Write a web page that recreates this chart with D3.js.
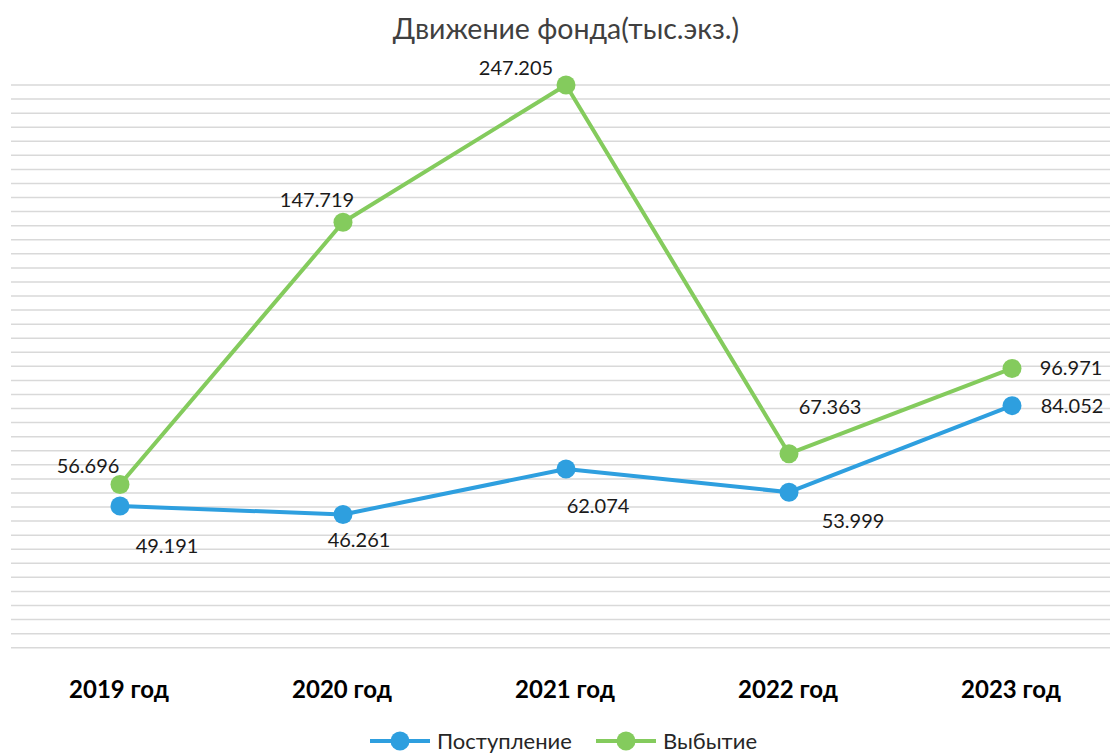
<!DOCTYPE html>
<html><head><meta charset="utf-8">
<script src="https://cdn.jsdelivr.net/npm/d3@7"></script>
<style>body{margin:0;background:#fff}svg{display:block}</style>
</head><body><svg id="c" width="1110" height="754"></svg>
<script>
const categories = ["2019 год","2020 год","2021 год","2022 год","2023 год"];
const seriesNames = ["Поступление","Выбытие"];
const postuplenie = [49.191, 46.261, 62.074, 53.999, 84.052];
const vybytie = [56.696, 147.719, 247.205, 67.363, 96.971];
const yMax = 195.4;
const gridCount = 40;
const title = "Движение фонда(тыс.экз.)";
// label offsets (style)
const offP = [[47,40],[16,26],[32,37],[64,29],[60,0]];
const offV = [[-32,-18],[-26,-22],[-50,-17],[41,-47],[59,0]];
const colors = ["#2e9fdf","#84cb5d"];

const svg = d3.select("#c");
const W = 1110, H = 754;
const font = "Lato, 'Open Sans', sans-serif";
const x = d3.scalePoint().domain(categories).range([120, 1012]);
const y = d3.scaleLinear().domain([0, yMax]).range([647.7, 85]).clamp(true);

// gridlines
const gv = d3.range(gridCount + 1).map(i => i * yMax / gridCount);
svg.append("g").selectAll("line").data(gv).join("line")
  .attr("x1", 11).attr("x2", W).attr("y1", d => y(d)).attr("y2", d => y(d))
  .attr("stroke", "#d9d9d9").attr("stroke-width", 1.5);

// title
svg.append("text").attr("x", 566).attr("y", 39).attr("text-anchor","middle")
  .attr("font-family", font).attr("font-size", 28.5).attr("fill","#404040").text(title);

// x labels
svg.append("g").selectAll("text").data(categories).join("text")
  .attr("x", d => x(d) - 1).attr("y", 698).attr("text-anchor","middle")
  .attr("font-family", font).attr("font-size", 24).attr("font-weight","bold").attr("fill","#000")
  .text(d => d);

const series = [postuplenie, vybytie];
const offs = [offP, offV];
const line = d3.line().x((d,i) => x(categories[i])).y(d => y(d));
series.forEach((s, k) => {
  const g = svg.append("g");
  g.append("path").datum(s).attr("d", line).attr("fill","none")
    .attr("stroke", colors[k]).attr("stroke-width", 4).attr("stroke-linejoin","round");
  g.selectAll("circle").data(s).join("circle")
    .attr("cx", (d,i) => x(categories[i])).attr("cy", d => y(d)).attr("r", 9.5)
    .attr("fill", colors[k]);
});
series.forEach((s, k) => {
  svg.append("g").selectAll("text").data(s).join("text")
    .attr("x", (d,i) => x(categories[i]) + offs[k][i][0])
    .attr("y", (d,i) => y(d) + offs[k][i][1])
    .attr("dy", "0.35em").attr("text-anchor","middle")
    .attr("font-family", font).attr("font-size", 20).attr("fill","#1a1a1a")
    .text(d => d3.format(".3f")(d));
});

// legend
const leg = [{x:370, tx:437},{x:596, tx:663}];
seriesNames.forEach((n, k) => {
  const g = svg.append("g");
  g.append("line").attr("x1", leg[k].x).attr("x2", leg[k].x + 60).attr("y1", 741).attr("y2", 741)
    .attr("stroke", colors[k]).attr("stroke-width", 4);
  g.append("circle").attr("cx", leg[k].x + 30).attr("cy", 741).attr("r", 9.5).attr("fill", colors[k]);
  g.append("text").attr("x", leg[k].tx).attr("y", 741).attr("dy","0.35em")
    .attr("font-family", font).attr("font-size", 22).attr("fill","#262626").text(n);
});
</script></body></html>
